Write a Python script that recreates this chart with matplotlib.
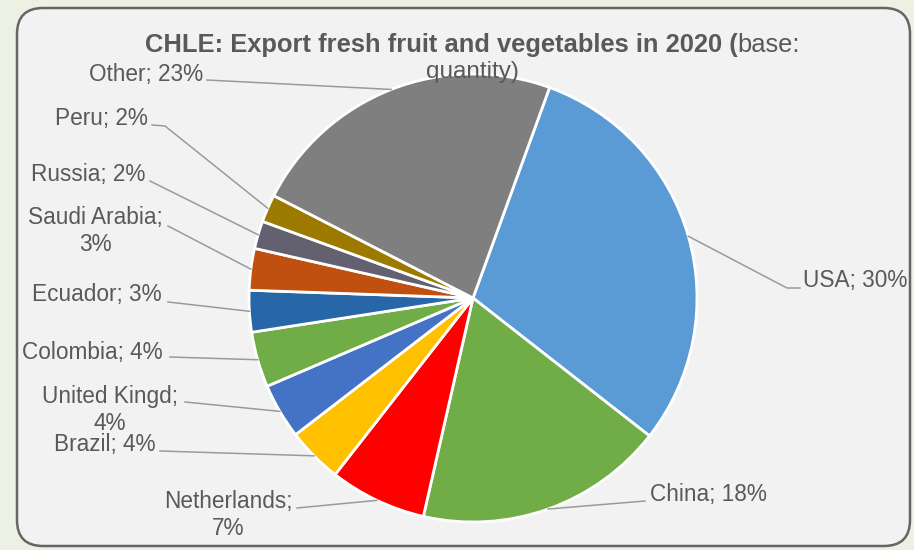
import matplotlib
matplotlib.use("Agg")
import matplotlib.pyplot as plt
from matplotlib.patches import FancyBboxPatch
import numpy as np

# export destinations, share of quantity (%)
countries = ["USA", "China", "Netherlands", "Brazil", "United Kingd", "Colombia",
             "Ecuador", "Saudi Arabia", "Russia", "Peru", "Other"]
shares = [30, 18, 7, 4, 4, 4, 3, 3, 2, 2, 23]
colors = ["#5b9bd5", "#70ad47", "#ff0000", "#ffc000", "#4472c4", "#70ad47",
          "#2767a8", "#c0500f", "#636170", "#9c7a00", "#7f7f7f"]
wrapped = {"Saudi Arabia", "United Kingd", "Netherlands"}

W, H = 914, 550
TXT = "#595959"
LINE = "#9a9a9a"
plt.rcParams["font.family"] = ["Liberation Sans", "DejaVu Sans"]

fig = plt.figure(figsize=(W / 100, H / 100), dpi=100, facecolor="#edf1e4")
ax = fig.add_axes([0, 0, 1, 1])

def py(y):
    # pixel rows counted from the top
    return H - y

frame = FancyBboxPatch((17, py(546)), 893, 538,
                       boxstyle="round,pad=0,rounding_size=26",
                       facecolor="#f2f2f2", edgecolor="#656565", lw=1.8, zorder=0)
ax.add_patch(frame)

cx, cy, r = 473, py(298), 224
wedges, _ = ax.pie(shares, colors=colors, startangle=70, counterclock=False,
                   center=(cx, cy), radius=r,
                   wedgeprops=dict(edgecolor="white", linewidth=2))

ax.set_xlim(0, W)
ax.set_ylim(0, H)
ax.set_aspect("equal")
ax.axis("off")

# label placement: (text x, text y, ha, leader start points)
layout = {
    "USA": (803, 281, "left", [(800, 288), (787, 288)]),
    "China": (650, 495, "left", [(645, 501)]),
    "Netherlands": (228, 515, "center", [(297, 508)]),
    "Brazil": (155, 445, "right", [(160, 451)]),
    "United Kingd": (110, 410, "center", [(185, 402)]),
    "Colombia": (163, 353, "right", [(170, 357)]),
    "Ecuador": (162, 294, "right", [(168, 302)]),
    "Saudi Arabia": (95, 231, "center", [(168, 226)]),
    "Russia": (145, 174, "right", [(150, 181)]),
    "Peru": (148, 118, "right", [(152, 125), (165, 126)]),
    "Other": (203, 75, "right", [(207, 80)]),
}

for w, name, s in zip(wedges, countries, shares):
    mid = np.deg2rad((w.theta1 + w.theta2) / 2)
    ax_, ay_ = cx + r * np.cos(mid), cy + r * np.sin(mid)
    tx, ty, ha, pts = layout[name]
    sep = ";\n" if name in wrapped else "; "
    ax.text(tx, py(ty), f"{name}{sep}{s}%", ha=ha, va="center",
            multialignment="center", fontsize=16.3, color=TXT)
    xs = [p[0] for p in pts] + [ax_]
    ys = [py(p[1]) for p in pts] + [ay_]
    ax.plot(xs, ys, color=LINE, lw=1.1, zorder=1)

t1 = ax.text(145, py(45), "CHLE: Export fresh fruit and vegetables in 2020 (",
             ha="left", va="center", fontsize=18.4, fontweight="bold", color=TXT)
ax.annotate("base:", xy=(1, 0), xycoords=t1, ha="left", va="bottom",
            fontsize=18.4, color=TXT)
ax.text(472, py(72), "quantity)", ha="center", va="center", fontsize=17.5, color=TXT)

fig.savefig("out.png", dpi=100, facecolor=fig.get_facecolor())
